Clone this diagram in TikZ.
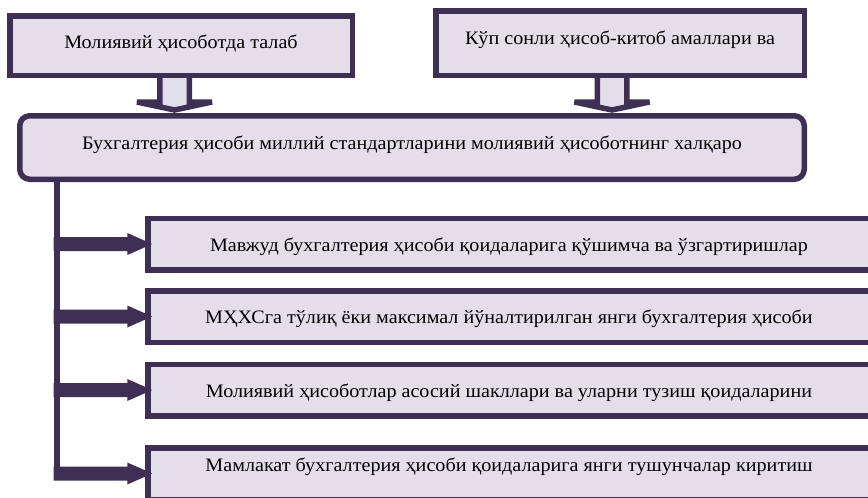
\documentclass[tikz,border=0pt]{standalone}
\usepackage{fontspec}
\setmainfont[FakeStretch=1.06]{Liberation Serif}
\usetikzlibrary{calc}
\definecolor{bdr}{RGB}{63,47,84}
\definecolor{fil}{RGB}{228,222,235}
\pgfdeclarelayer{bg}
\pgfsetlayers{bg,main}
\newcommand\blockarr[3]{%
  \filldraw[barrow] let \p1=($(#1.south)+(#3,0)$), \p2=(#2.north) in
    (\x1-14.75pt,\y1) -- (\x1-14.75pt,\y2+11pt) -- (\x1-37.5pt,\y2+11pt) --
    (\x1,\y2+3pt) -- (\x1+37.5pt,\y2+11pt) -- (\x1+14.75pt,\y2+11pt) -- (\x1+14.75pt,\y1);}
\newcommand\branch[1]{%
  \fill[bdr] let \p1=(#1.west), \p2=(T) in
    (\x2-3pt,\y1+7pt) -- (\x1-17.75pt,\y1+7pt) -- (\x1-17.75pt,\y1+11pt) --
    (\x1+7.25pt,\y1) -- (\x1-17.75pt,\y1-11pt) -- (\x1-17.75pt,\y1-7pt) --
    (\x2-3pt,\y1-7pt) -- cycle;}
\begin{document}
\begin{tikzpicture}[x=1pt,y=-1pt,
  box/.style={draw=bdr, fill=fil, line width=5.5pt, inner sep=0pt,
    font=\fontsize{19}{21}\selectfont, text height=17.1pt, text depth=4.56pt},
  barrow/.style={draw=bdr, fill=fil, line width=5.5pt, line join=miter, miter limit=1.5},
  trunk/.style={draw=bdr, line width=6pt}]
\useasboundingbox (0,0) rectangle (868,498);
\node[box, text depth=11.56pt, minimum width=342.5pt, minimum height=59.5pt] (A) at (181,45.5) {Молиявий ҳисоботда талаб};
\node[box, text depth=13.56pt, minimum width=368.5pt, minimum height=64.5pt] (B) at (620,43) {Кўп сонли ҳисоб-китоб амаллари ва};
\node[box, text depth=12.56pt, rounded corners=10pt, minimum width=784.5pt, minimum height=63.5pt] (M) at (412,147.5) {Бухгалтерия ҳисоби миллий стандартларини молиявий ҳисоботнинг халқаро};
\node[box, text depth=2.56pt, minimum width=722.5pt, minimum height=51.5pt] (C1) at (509,244) {Мавжуд бухгалтерия ҳисоби қоидаларига қўшимча ва ўзгартиришлар};
\node[box, text depth=2.56pt, minimum width=722.5pt, minimum height=51.5pt] (C2) at (509,316.5) {МҲХСга тўлиқ ёки максимал йўналтирилган янги бухгалтерия ҳисоби};
\node[box, text depth=2.56pt, minimum width=722.5pt, minimum height=51.5pt] (C3) at (509,390) {Молиявий ҳисоботлар асосий шакллари ва уларни тузиш қоидаларини};
\node[box, text depth=21.56pt, minimum width=722.5pt, minimum height=51.5pt] (C4) at (509,473.5) {Мамлакат бухгалтерия ҳисоби қоидаларига янги тушунчалар киритиш};
\begin{pgfonlayer}{bg}
  \blockarr{A}{M}{-6.5}
  \blockarr{B}{M}{-8}
\end{pgfonlayer}
\coordinate (T) at ($(M.south west)+(39.5,0)$);
\draw[trunk] (T) -- (T |- C4.west);
\branch{C1}
\branch{C2}
\branch{C3}
\branch{C4}
\end{tikzpicture}
\end{document}
